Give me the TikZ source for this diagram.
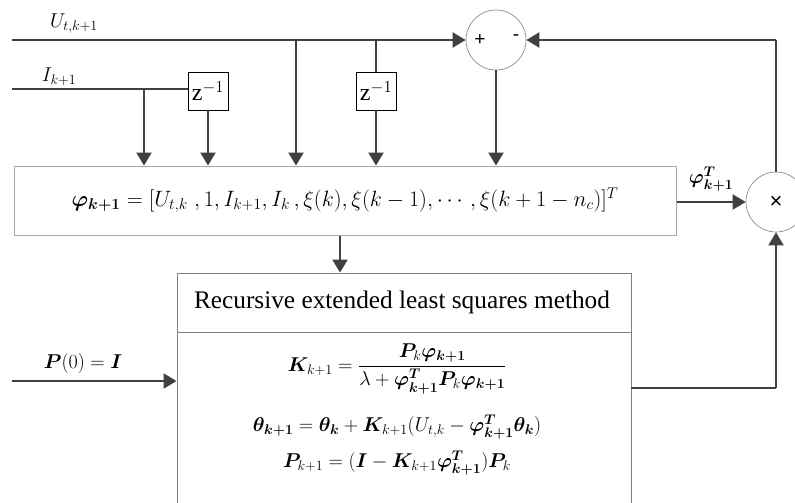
\documentclass[tikz,border=0pt]{standalone}
\usepackage{fix-cm}
\usepackage{amsmath,bm}
\usepackage{fontspec}
\setmainfont{Liberation Serif}
\newfontfamily\sansf{Liberation Sans}
\usetikzlibrary{arrows.meta}
\definecolor{linegray}{HTML}{404040}
\definecolor{boxgray}{HTML}{A8A8A8}
\definecolor{relsgray}{HTML}{808080}
\definecolor{circgray}{HTML}{8C8C8C}
\begin{document}
\begin{tikzpicture}[x=1pt,y=-1pt,
  conn/.style={draw=linegray,line width=2pt},
  arr/.style={conn,-{Triangle[length=13pt,width=15pt]}},
  circ/.style={circle,draw=circgray,line width=0.7pt,minimum size=60pt,inner sep=0pt},
  zbox/.style={draw=black,line width=0.9pt,minimum width=40pt,minimum height=38pt,inner sep=0pt,font=\fontsize{24}{26}\selectfont},
  pbox/.style={draw=boxgray,line width=1pt,inner sep=0pt},
  rbox/.style={draw=relsgray,line width=0.9pt,inner sep=0pt},
  lbl/.style={inner sep=0pt,font=\fontsize{20}{22}\selectfont},
  sgn/.style={inner sep=0pt,font=\sansf\fontsize{19}{19}\selectfont}]
\clip (0,0) rectangle (795,503);
\fill[white] (0,0) rectangle (795,503);
% free ends
\coordinate (uin) at (12,40);
\coordinate (iin) at (12,89);
\coordinate (pin) at (12,381);
\coordinate (bI) at (144,89);
\coordinate (bU) at (296,40);
\coordinate (bZ) at (376,40);
\coordinate (corner) at (776,40);
\coordinate (outR) at (776,388);
\coordinate (divL) at (177,332);
\coordinate (divR) at (631,332);
\coordinate (mid) at (340,240);
% nodes
\node[circ] (sum) at (496,40) {};
\node[sgn] (plus) at (480,40) {+};
\node[sgn] (minus) at (516,38) {-};
\node[circ] (mul) at (776,202) {};
\node[sgn,font=\sansf\fontsize{22}{22}\selectfont] (times) at (776,202) {×};
\node[zbox] (z1) at (208,91) {z$^{-1}$};
\node[zbox] (z2) at (376,91) {z$^{-1}$};
\node[pbox,minimum width=662pt,minimum height=69pt] (phi) at (345,200.5)
  {\fontsize{22.2}{24}\selectfont$\bm{\varphi}_{\bm{k+1}}=[U_{t,k}\;,1,I_{k+1},I_k\,,\xi(k),\xi(k-1),\cdots,\xi(k+1-n_c)]^T$};
\node[rbox,minimum width=454pt,minimum height=267pt] (rels) at (404,406.5) {};
\node[lbl,font=\fontsize{25.3}{27}\selectfont] (title) at (402,302) {Recursive extended least squares method};
\node[lbl] (eqK) at (397,369) {$\bm{K}_{k+1}=\dfrac{\bm{P}_k\bm{\varphi}_{\bm{k+1}}}{\lambda+\bm{\varphi}^{\bm T}_{\bm{k+1}}\bm{P}_k\bm{\varphi}_{\bm{k+1}}}$};
\node[lbl] (eqT) at (397,427) {$\bm{\theta}_{\bm{k+1}}=\bm{\theta}_{\bm{k}}+\bm{K}_{k+1}(U_{t,k}-\bm{\varphi}^{\bm T}_{\bm{k+1}}\bm{\theta}_{\bm{k}})$};
\node[lbl] (eqP) at (397,463) {$\bm{P}_{k+1}=(\bm{I}-\bm{K}_{k+1}\bm{\varphi}^{\bm T}_{\bm{k+1}})\bm{P}_k$};
\node[lbl] (uL) at (74,24) {$U_{t,k+1}$};
\node[lbl] (iL) at (59,77) {$I_{k+1}$};
\node[lbl] (pL) at (83,363) {$\bm{P}(0)=\bm{I}$};
\node[lbl] (phT) at (711,179) {$\bm{\varphi}^{\bm T}_{\bm{k+1}}$};
% divider
\draw[draw=relsgray,line width=0.9pt] (divL) -- (divR);
% connectors
\draw[arr] (uin) -- (sum.west);
\draw[conn] (iin) -- (iin -| z1.west);
\draw[arr] (bI) -- (bI |- phi.north);
\draw[arr] (z1.south) -- (z1.south |- phi.north);
\draw[arr] (bU) -- (bU |- phi.north);
\draw[conn] (bZ) -- (z2.north);
\draw[arr] (z2.south) -- (z2.south |- phi.north);
\draw[arr] (sum.south) -- (sum.south |- phi.north);
\draw[arr] (phi.east |- mul.west) -- (mul.west);
\draw[arr] (mid |- phi.south) -- (mid |- rels.north);
\draw[arr] (pin) -- (pin -| rels.west);
\draw[conn] (outR -| rels.east) -- (outR);
\draw[arr] (outR) -- (mul.south);
\draw[conn] (mul.north) -- (corner);
\draw[arr] (corner) -- (sum.east);
\end{tikzpicture}
\end{document}
